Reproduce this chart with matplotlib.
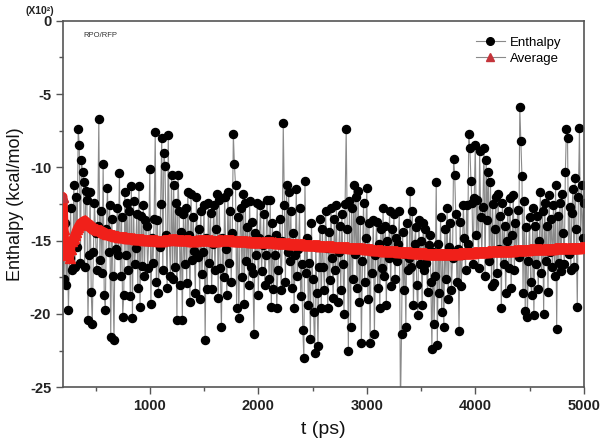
import matplotlib
matplotlib.use("Agg")
import matplotlib.pyplot as plt
from matplotlib.ticker import MultipleLocator
from matplotlib.lines import Line2D
import numpy as np

plt.rcParams['font.family'] = ['Liberation Sans', 'DejaVu Sans']
plt.rcParams['axes.unicode_minus'] = False

# Time axis of enthalpy samples (ps)
t_start, t_end, t_step = 200, 5000, 10

# Enthalpy values (x10^2 kcal/mol), 10 ps apart
enthalpy = [
    -14.0, -17.6, -13.8, -18.0, -15.2, -19.7, -16.2, -12.8, -17.0, -16.9,   # 200
    -11.2, -16.8, -12.0, -15.4, -7.4, -8.5, -16.5, -9.5, -10.3, -11.0,      # 300
    -16.8, -11.6, -12.2, -20.4, -16.0, -11.7, -18.5, -20.7, -15.8, -12.4,   # 400
    -14.5, -17.0, -14.0, -6.7, -16.3, -13.0, -17.2, -9.8, -18.7, -19.7,     # 500
    -14.2, -11.4, -15.8, -12.6, -21.6, -13.5, -17.4, -21.8, -14.6, -15.6,   # 600
    -12.8, -16.0, -10.4, -17.4, -13.4, -20.2, -18.7, -11.7, -16.0, -12.4,   # 700
    -17.0, -13.0, -18.8, -11.3, -20.3, -12.3, -16.6, -15.5, -13.2, -18.2,   # 800
    -11.3, -19.5, -13.3, -16.7, -12.6, -17.4, -13.6, -14.0, -16.9, -15.0,   # 900
    -10.1, -19.3, -14.8, -16.5, -13.5, -7.6, -17.8, -13.6, -18.6, -15.4,    # 1000
    -12.5, -8.0, -17.0, -9.0, -9.9, -14.6, -18.2, -7.8, -15.0, -17.4,       # 1100
    -10.5, -17.6, -11.2, -16.8, -12.4, -20.4, -10.5, -13.0, -18.0, -14.4,   # 1200
    -20.4, -13.2, -16.6, -12.8, -17.9, -11.7, -14.6, -19.2, -11.8, -16.3,   # 1300
    -13.4, -15.7, -18.6, -12.0, -16.1, -14.2, -19.0, -13.0, -17.3, -15.8,   # 1400
    -12.6, -21.8, -14.8, -18.3, -12.4, -16.5, -13.1, -18.3, -15.2, -12.6,   # 1500
    -17.0, -14.2, -11.8, -18.9, -12.2, -16.9, -20.9, -14.8, -17.5, -12.0,   # 1600
    -15.6, -18.7, -11.7, -16.5, -13.0, -17.8, -14.5, -7.75, -9.8, -11.2,    # 1700
    -19.6, -13.4, -20.3, -15.0, -12.8, -17.5, -11.8, -19.3, -12.4, -16.4,   # 1800
    -14.1, -18.0, -12.3, -16.8, -13.7, -17.2, -21.4, -14.5, -16.0, -12.4,   # 1900
    -18.7, -14.8, -12.6, -17.1, -15.3, -13.2, -18.0, -16.0, -12.2, -14.9,   # 2000
    -17.6, -12.2, -19.5, -13.8, -18.3, -16.0, -14.6, -19.6, -17.0, -15.2,   # 2100
    -13.5, -18.4, -15.0, -7.0, -12.6, -17.8, -11.2, -15.8, -11.7, -16.4,    # 2200
    -13.0, -18.2, -14.5, -19.6, -16.0, -11.5, -17.4, -15.6, -12.8, -18.8,   # 2300
    -16.6, -21.1, -23.0, -10.9, -17.2, -14.8, -19.4, -16.5, -21.7, -13.8,   # 2400
    -17.6, -19.9, -22.7, -15.4, -18.6, -22.2, -16.8, -13.5, -19.6, -14.2,   # 2500
    -16.8, -18.4, -13.0, -15.5, -19.6, -14.4, -17.7, -12.8, -16.2, -18.9,   # 2600
    -13.5, -17.0, -12.6, -19.2, -15.8, -14.0, -18.4, -13.2, -16.6, -20.0,   # 2700
    -12.5, -7.4, -14.2, -22.5, -12.3, -20.9, -12.8, -17.6, -11.2, -15.9,    # 2800
    -12.0, -18.2, -11.6, -19.2, -13.6, -22.0, -16.4, -12.4, -17.8, -14.8,   # 2900
    -11.4, -19.0, -13.8, -22.0, -15.6, -17.2, -13.6, -21.4, -16.0, -13.7,   # 3000
    -18.2, -15.2, -19.6, -14.2, -16.9, -12.8, -17.4, -14.0, -19.4, -15.0,   # 3100
    -16.2, -13.0, -18.1, -14.2, -15.8, -13.2, -17.6, -14.8, -16.4, -15.2,   # 3200
    -13.0, -26.5, -21.4, -14.4, -18.4, -15.9, -20.9, -13.8, -17.0, -16.2,   # 3300
    -11.6, -16.8, -13.0, -19.4, -15.2, -14.1, -18.0, -20.1, -13.6, -16.6,   # 3400
    -15.0, -19.4, -13.8, -17.0, -14.2, -16.5, -18.5, -15.3, -14.6, -17.8,   # 3500
    -22.4, -15.8, -20.7, -17.4, -11.0, -22.1, -15.2, -18.6, -13.4, -19.9,   # 3600
    -16.0, -20.9, -14.2, -17.6, -12.8, -19.0, -15.4, -13.8, -18.4, -16.2,   # 3700
    -9.4, -10.5, -13.2, -17.8, -15.6, -21.2, -13.7, -18.1, -16.0, -12.6,    # 3800
    -14.8, -17.0, -12.6, -15.2, -7.7, -8.7, -10.9, -12.4, -16.6, -12.1,     # 3900
    -8.5, -14.6, -12.2, -16.9, -8.9, -13.4, -15.8, -12.7, -8.7, -17.4,      # 4000
    -9.5, -13.6, -10.3, -16.4, -11.0, -18.1, -12.5, -17.9, -14.2, -12.0,    # 4100
    -17.2, -11.8, -15.6, -13.3, -19.6, -12.4, -16.6, -14.0, -18.6, -15.0,   # 4200
    -13.0, -16.9, -12.1, -18.2, -14.6, -11.9, -17.0, -13.8, -15.7, -12.9,   # 4300
    -16.1, -5.9, -8.2, -10.6, -18.6, -12.3, -19.8, -14.1, -20.2, -16.4,     # 4400
    -13.4, -17.8, -18.7, -12.8, -20.1, -14.0, -16.6, -13.3, -18.3, -15.0,   # 4500
    -11.7, -17.2, -13.0, -20.0, -12.4, -16.4, -14.0, -18.5, -11.9, -15.8,   # 4600
    -13.5, -16.8, -12.6, -17.4, -11.2, -21.0, -13.3, -16.5, -12.4, -17.1,   # 4700
    -11.8, -14.5, -16.6, -10.3, -7.4, -8.0, -15.9, -12.7, -17.0, -13.1,     # 4800
    -11.5, -16.8, -10.7, -14.2, -19.5, -12.0, -7.3, -15.5, -11.2, -14.8,    # 4900
    -12.4,                                                                  # 5000
]
time = np.arange(t_start, t_end + t_step, t_step)[:len(enthalpy)]

# Running average (x10^2 kcal/mol)
avg_time = [200, 215, 230, 245, 260, 280, 300, 330, 360, 400, 450, 500, 550, 600,
            700, 800, 900, 1000, 1100, 1200, 1300, 1400, 1500, 1600, 1700, 1800,
            1900, 2000, 2100, 2200, 2300, 2400, 2500, 2600, 2700, 2800, 2900, 3000,
            3100, 3200, 3300, 3400, 3500, 3600, 3700, 3800, 3900, 4000, 4100, 4200,
            4300, 4400, 4500, 4600, 4700, 4800, 4900, 5000]
avg_value = [-12.0, -15.3, -16.0, -15.4, -16.2, -15.0, -14.8, -14.2, -13.8, -13.6,
             -13.9, -14.2, -14.3, -14.5, -14.7, -14.8, -14.9, -14.95, -15.0, -14.9,
             -14.95, -15.0, -14.95, -15.0, -14.95, -15.0, -15.05, -15.1, -15.1, -15.15,
             -15.2, -15.25, -15.3, -15.35, -15.4, -15.45, -15.5, -15.55, -15.65, -15.7,
             -15.75, -15.8, -15.85, -15.9, -15.9, -15.9, -15.85, -15.8, -15.75, -15.7,
             -15.7, -15.65, -15.6, -15.6, -15.55, -15.5, -15.5, -15.45]

x_ticks = [1000, 2000, 3000, 4000, 5000]
y_ticks = [0, -5, -10, -15, -20, -25]

fig = plt.figure(figsize=(6.0, 4.44), dpi=100)
ax = fig.add_axes([0.105, 0.128, 0.868, 0.825])

ax.plot(time, enthalpy, color='#8a8a8a', lw=0.8, marker='o', ms=5.8,
        mfc='black', mec='black', zorder=2)
# dense triangle band for average
avg_dense_t = np.arange(200, 5001, 10)
avg_dense_v = np.interp(avg_dense_t, avg_time, avg_value)
ax.plot(avg_time, avg_value, color='#f0201a', lw=6.5, solid_joinstyle='round',
        solid_capstyle='round', zorder=3)
ax.plot(avg_dense_t, avg_dense_v, ls='none', marker='^', ms=6.5,
        mfc='#f0201a', mec='#f0201a', zorder=3)
ax.plot([avg_time[0]], [avg_value[0]], ls='none', marker='^', ms=7,
        mfc='#c4343a', mec='#c4343a', zorder=4)

ax.set_xlim(200, 5000)
ax.set_ylim(-25, 0)
ax.set_xticks(x_ticks)
ax.set_yticks(y_ticks)
ax.xaxis.set_minor_locator(MultipleLocator(500))
ax.yaxis.set_minor_locator(MultipleLocator(2.5))
ax.tick_params(which='major', direction='out', length=5, width=1, color='#555555',
               labelsize=10.5)
ax.tick_params(which='minor', direction='out', length=3, width=1, color='#555555')
for lab in ax.get_xticklabels() + ax.get_yticklabels():
    lab.set_fontweight('bold')
    lab.set_color('#222222')
for sp in ax.spines.values():
    sp.set_color('#555555')
    sp.set_linewidth(1.2)

ax.set_xlabel('t (ps)', fontsize=14, labelpad=6, color='#111111')
ax.set_ylabel('Enthalpy (kcal/mol)', fontsize=13, labelpad=4, color='#111111')

fig.text(0.043, 0.976, '(X10²)', fontsize=7.5, fontweight='bold', color='#222222',
         va='center', ha='left')
ax.text(0.04, 0.97, 'RPO/RFP', transform=ax.transAxes, fontsize=5.5,
        color='#333333', va='top', ha='left')

handles = [
    Line2D([], [], color='#8a8a8a', lw=0.8, marker='o', ms=5.5,
           mfc='black', mec='black'),
    Line2D([], [], color='#8a8a8a', lw=0.8, marker='^', ms=6,
           mfc='#c4343a', mec='#c4343a'),
]
ax.legend(handles, ['Enthalpy', 'Average'], loc='upper right', frameon=False,
          fontsize=9.5, handlelength=2.2, handletextpad=0.4, labelspacing=0.3,
          bbox_to_anchor=(0.98, 0.99))

fig.savefig('out.png', dpi=100)
